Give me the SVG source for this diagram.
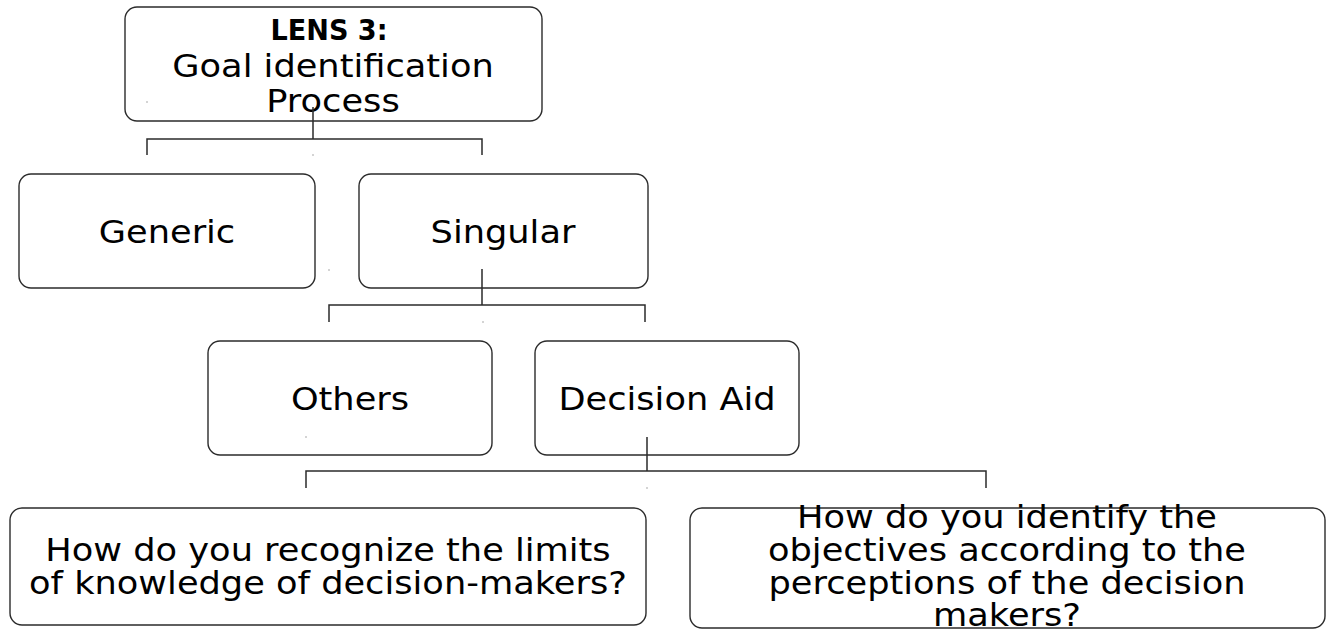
<svg xmlns="http://www.w3.org/2000/svg" width="1332" height="629" viewBox="0 0 1332 629">
  <style>
    .box { fill: #ffffff; stroke: #2b2b2b; stroke-width: 1.4; }
    .lbl { font-family: "DejaVu Sans", "Liberation Sans", sans-serif; font-size: 32px; fill: #000000; text-anchor: middle; }
    .head { font-family: "DejaVu Sans Condensed", "DejaVu Sans", sans-serif; font-weight: bold; font-size: 28px; fill: #000000; text-anchor: middle; }
    .wire { fill: none; stroke: #2b2b2b; stroke-width: 1.5; }
    .dot { fill: #555555; }
  </style>
  <rect width="1332" height="629" fill="#ffffff"/>

  <!-- labels are widened slightly along x -->
  <g id="node-lens3">
    <rect class="box" x="125" y="7" width="417" height="114" rx="12"/>
    <text class="head" x="329" y="40" textLength="117" lengthAdjust="spacingAndGlyphs">LENS 3:</text>
    <text class="lbl" transform="translate(333,77) scale(1.1,1)">Goal identification</text>
    <text class="lbl" transform="translate(333,112) scale(1.1,1)">Process</text>
  </g>

  <g id="node-generic">
    <rect class="box" x="19" y="174" width="296" height="114" rx="12"/>
    <text class="lbl" transform="translate(167,243) scale(1.1,1)">Generic</text>
  </g>

  <g id="node-singular">
    <rect class="box" x="359" y="174" width="289" height="114" rx="12"/>
    <text class="lbl" transform="translate(503,243) scale(1.1,1)">Singular</text>
  </g>

  <g id="node-others">
    <rect class="box" x="208" y="341" width="284" height="114" rx="12"/>
    <text class="lbl" transform="translate(350,410) scale(1.1,1)">Others</text>
  </g>

  <g id="node-decision-aid">
    <rect class="box" x="535" y="341" width="264" height="114" rx="12"/>
    <text class="lbl" transform="translate(667,410) scale(1.1,1)">Decision Aid</text>
  </g>

  <g id="node-limits">
    <rect class="box" x="10" y="508" width="636" height="117" rx="12"/>
    <text class="lbl" transform="translate(328,561) scale(1.1,1)">How do you recognize the limits</text>
    <text class="lbl" transform="translate(328,594) scale(1.1,1)">of knowledge of decision-makers?</text>
  </g>

  <g id="node-objectives">
    <rect class="box" x="690" y="508" width="635" height="120" rx="12"/>
    <text class="lbl" transform="translate(1007,528) scale(1.1,1)">How do you identify the</text>
    <text class="lbl" transform="translate(1007,561) scale(1.1,1)">objectives according to the</text>
    <text class="lbl" transform="translate(1007,594) scale(1.1,1)">perceptions of the decision</text>
    <text class="lbl" transform="translate(1007,626) scale(1.1,1)">makers?</text>
  </g>

  <!-- tree connectors, drawn over the parent boxes -->
  <g id="connectors">
    <path class="wire" d="M313,107 V139 M147,155 V139 H482 V155"/>
    <path class="wire" d="M482,269 V305 M329,322 V305 H645 V322"/>
    <path class="wire" d="M647,437 V471 M306,488 V471 H986 V488"/>
  </g>

  <!-- small marks -->
  <g id="marks">
    <rect class="dot" x="146.5" y="101.5" width="1" height="1"/>
    <rect class="dot" x="312.5" y="154.5" width="1" height="1"/>
    <rect class="dot" x="328.5" y="269.5" width="1" height="1"/>
    <rect class="dot" x="482.5" y="321.5" width="1" height="1"/>
    <rect class="dot" x="305.5" y="436.5" width="1" height="1"/>
    <rect class="dot" x="646.5" y="487.5" width="1" height="1"/>
  </g>
</svg>
